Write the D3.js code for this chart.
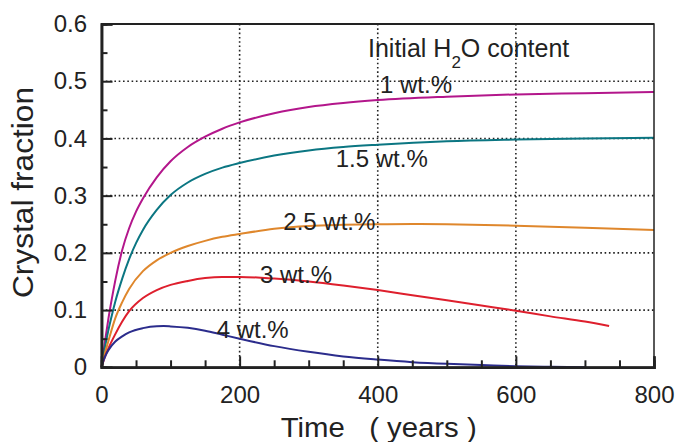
<!DOCTYPE html>
<html>
<head>
<meta charset="utf-8">
<script src="https://cdn.jsdelivr.net/npm/d3@7"></script>
<style>
  html, body { margin: 0; padding: 0; background: #fff; }
  svg { display: block; font-family: "Liberation Sans", Arial, Helvetica, sans-serif; }
</style>
</head>
<body>
<svg id="chart" width="676" height="442"></svg>
<script>
// ---- Data ----
const xTicks = [0, 200, 400, 600, 800];
const yTicks = [0, 0.1, 0.2, 0.3, 0.4, 0.5, 0.6];
const xMinorTicks = [50, 100, 150, 250, 300, 350, 450, 500, 550, 650, 700, 750];
const yMinorTicks = [0.05, 0.15, 0.25, 0.35, 0.45, 0.55];
const yTickLabels = ["0", "0.1", "0.2", "0.3", "0.4", "0.5", "0.6"];
const xTickLabels = ["0", "200", "400", "600", "800"];

const seriesNames = ["1 wt.%", "1.5 wt.%", "2.5 wt.%", "3 wt.%", "4 wt.%"];
const seriesColors = ["#b3168b", "#0b7682", "#df872c", "#de1f2d", "#2b2c8c"];

const t1 = [0, 5, 10, 15, 20, 30, 40, 50, 60, 80, 100, 125, 150, 175, 200, 250, 300, 350, 400, 500, 600, 700, 800];
const f1 = [0, 0.045, 0.085, 0.12, 0.152, 0.205, 0.243, 0.272, 0.295, 0.332, 0.36, 0.385, 0.403, 0.417, 0.428, 0.444, 0.455, 0.462, 0.467, 0.473, 0.477, 0.479, 0.481];

const t15 = [0, 5, 10, 15, 20, 30, 40, 50, 60, 80, 100, 125, 150, 175, 200, 250, 300, 350, 400, 500, 600, 700, 800];
const f15 = [0, 0.035, 0.065, 0.091, 0.115, 0.155, 0.189, 0.217, 0.24, 0.275, 0.301, 0.323, 0.338, 0.349, 0.357, 0.37, 0.379, 0.385, 0.389, 0.395, 0.398, 0.4, 0.401];

const t25 = [0, 5, 10, 20, 30, 40, 60, 80, 100, 125, 150, 175, 200, 250, 300, 350, 400, 450, 500, 600, 700, 800];
const f25 = [0, 0.025, 0.046, 0.086, 0.114, 0.137, 0.168, 0.187, 0.2, 0.212, 0.221, 0.228, 0.233, 0.242, 0.247, 0.249, 0.25, 0.2505, 0.25, 0.2475, 0.244, 0.24];

const t3 = [0, 5, 10, 20, 30, 40, 60, 80, 100, 125, 150, 175, 200, 250, 300, 350, 400, 450, 500, 550, 600, 650, 700, 735];
const f3 = [0, 0.018, 0.033, 0.058, 0.08, 0.098, 0.121, 0.135, 0.144, 0.151, 0.156, 0.158, 0.158, 0.155, 0.15, 0.143, 0.135, 0.126, 0.117, 0.108, 0.099, 0.089, 0.08, 0.072];

const t4 = [0, 3, 6, 10, 20, 30, 40, 60, 80, 90, 100, 125, 150, 175, 200, 250, 300, 350, 400, 450, 500, 550, 600, 650, 700];
const f4 = [0, 0.012, 0.021, 0.03, 0.045, 0.054, 0.061, 0.0685, 0.0718, 0.072, 0.0715, 0.069, 0.064, 0.057, 0.05, 0.037, 0.027, 0.019, 0.0135, 0.009, 0.006, 0.004, 0.002, 0.001, 0.0];

const seriesT = [t1, t15, t25, t3, t4];
const seriesF = [f1, f15, f25, f3, f4];

// ---- Layout ----
const pLeft = 101.5, pRight = 654, pTop = 24, pBottom = 367.3;
const svg = d3.select("#chart");
const x = d3.scaleLinear().domain([0, 800]).range([pLeft, pRight]);
const y = d3.scaleLinear().domain([0, 0.6]).range([pBottom, pTop]);
const ink = "#222";

// gridlines (dotted)
const grid = svg.append("g");
grid.selectAll("line.gy").data(yTicks.slice(1, 6)).join("line")
  .attr("x1", pLeft).attr("x2", pRight)
  .attr("y1", d => y(d)).attr("y2", d => y(d))
  .attr("stroke", ink).attr("stroke-width", 1.6).attr("stroke-dasharray", "1.6,2.7");
grid.selectAll("line.gx").data(xTicks.slice(1, 4)).join("line")
  .attr("x1", d => x(d)).attr("x2", d => x(d))
  .attr("y1", pTop).attr("y2", pBottom)
  .attr("stroke", ink).attr("stroke-width", 1.6).attr("stroke-dasharray", "1.6,2.7");

// curves
const line = d3.line().x(d => x(d[0])).y(d => y(d[1])).curve(d3.curveMonotoneX);
seriesT.forEach((ts, i) => {
  const pts = ts.map((t, j) => [t, seriesF[i][j]]);
  svg.append("path").datum(pts)
    .attr("d", line).attr("fill", "none")
    .attr("stroke", seriesColors[i]).attr("stroke-width", 2);
});

// frame
svg.append("rect").attr("x", pLeft).attr("y", pTop)
  .attr("width", pRight - pLeft).attr("height", pBottom - pTop)
  .attr("fill", "none").attr("stroke", ink).attr("stroke-width", 1.5);

// axes
const yAxis = d3.axisLeft(y).tickValues(yTicks).tickSize(-11).tickPadding(14.5)
  .tickFormat((d, i) => yTickLabels[i]);
const gy = svg.append("g").attr("transform", `translate(${pLeft},0)`).call(yAxis);
const yMinor = d3.axisLeft(y).tickValues(yMinorTicks).tickSize(-6).tickFormat("");
const gy2 = svg.append("g").attr("transform", `translate(${pLeft},0)`).call(yMinor);

const xAxis = d3.axisBottom(x).tickValues(xTicks).tickSize(-11).tickPadding(19)
  .tickFormat((d, i) => xTickLabels[i]);
const gx = svg.append("g").attr("transform", `translate(0,${pBottom})`).call(xAxis);
const xMinor = d3.axisBottom(x).tickValues(xMinorTicks).tickSize(-7).tickFormat("");
const gx2 = svg.append("g").attr("transform", `translate(0,${pBottom})`).call(xMinor);

[gy, gy2, gx, gx2].forEach(g => {
  g.select(".domain").attr("stroke", ink).attr("stroke-width", 2.5);
  g.selectAll(".tick line").attr("stroke", ink).attr("stroke-width", 2);
  g.selectAll(".tick text").attr("fill", ink).attr("font-size", 24)
    .attr("font-family", "'Liberation Sans', Arial, sans-serif");
});

// top border a bit heavier
svg.append("line").attr("x1", pLeft).attr("x2", pRight).attr("y1", pTop).attr("y2", pTop)
  .attr("stroke", ink).attr("stroke-width", 2.2);

// axis titles
svg.append("text")
  .attr("transform", "translate(33,192.5) rotate(-90)")
  .attr("text-anchor", "middle").attr("font-size", 29).attr("fill", ink)
  .attr("textLength", 211).attr("lengthAdjust", "spacingAndGlyphs")
  .text("Crystal fraction");

svg.append("text")
  .attr("x", 280.7).attr("y", 436.7)
  .attr("font-size", 27).attr("fill", ink)
  .attr("textLength", 196).attr("lengthAdjust", "spacingAndGlyphs")
  .text("Time\u00a0\u00a0\u00a0(\u00a0years\u00a0)");

// legend heading
const head = svg.append("text").attr("x", 368).attr("y", 57)
  .attr("font-size", 25).attr("fill", ink);
head.append("tspan").text("Initial H");
head.append("tspan").attr("dy", 11).attr("font-size", 17).text("2");
head.append("tspan").attr("dy", -11).text("O content");

// curve labels
const labelX = [380, 335.7, 283.3, 260, 216.7];
const labelY = [93, 167.3, 230, 283.3, 338.3];
seriesNames.forEach((n, i) => {
  svg.append("text").attr("x", labelX[i]).attr("y", labelY[i])
    .attr("font-size", 24).attr("fill", ink).text(n);
});
</script>
</body>
</html>
